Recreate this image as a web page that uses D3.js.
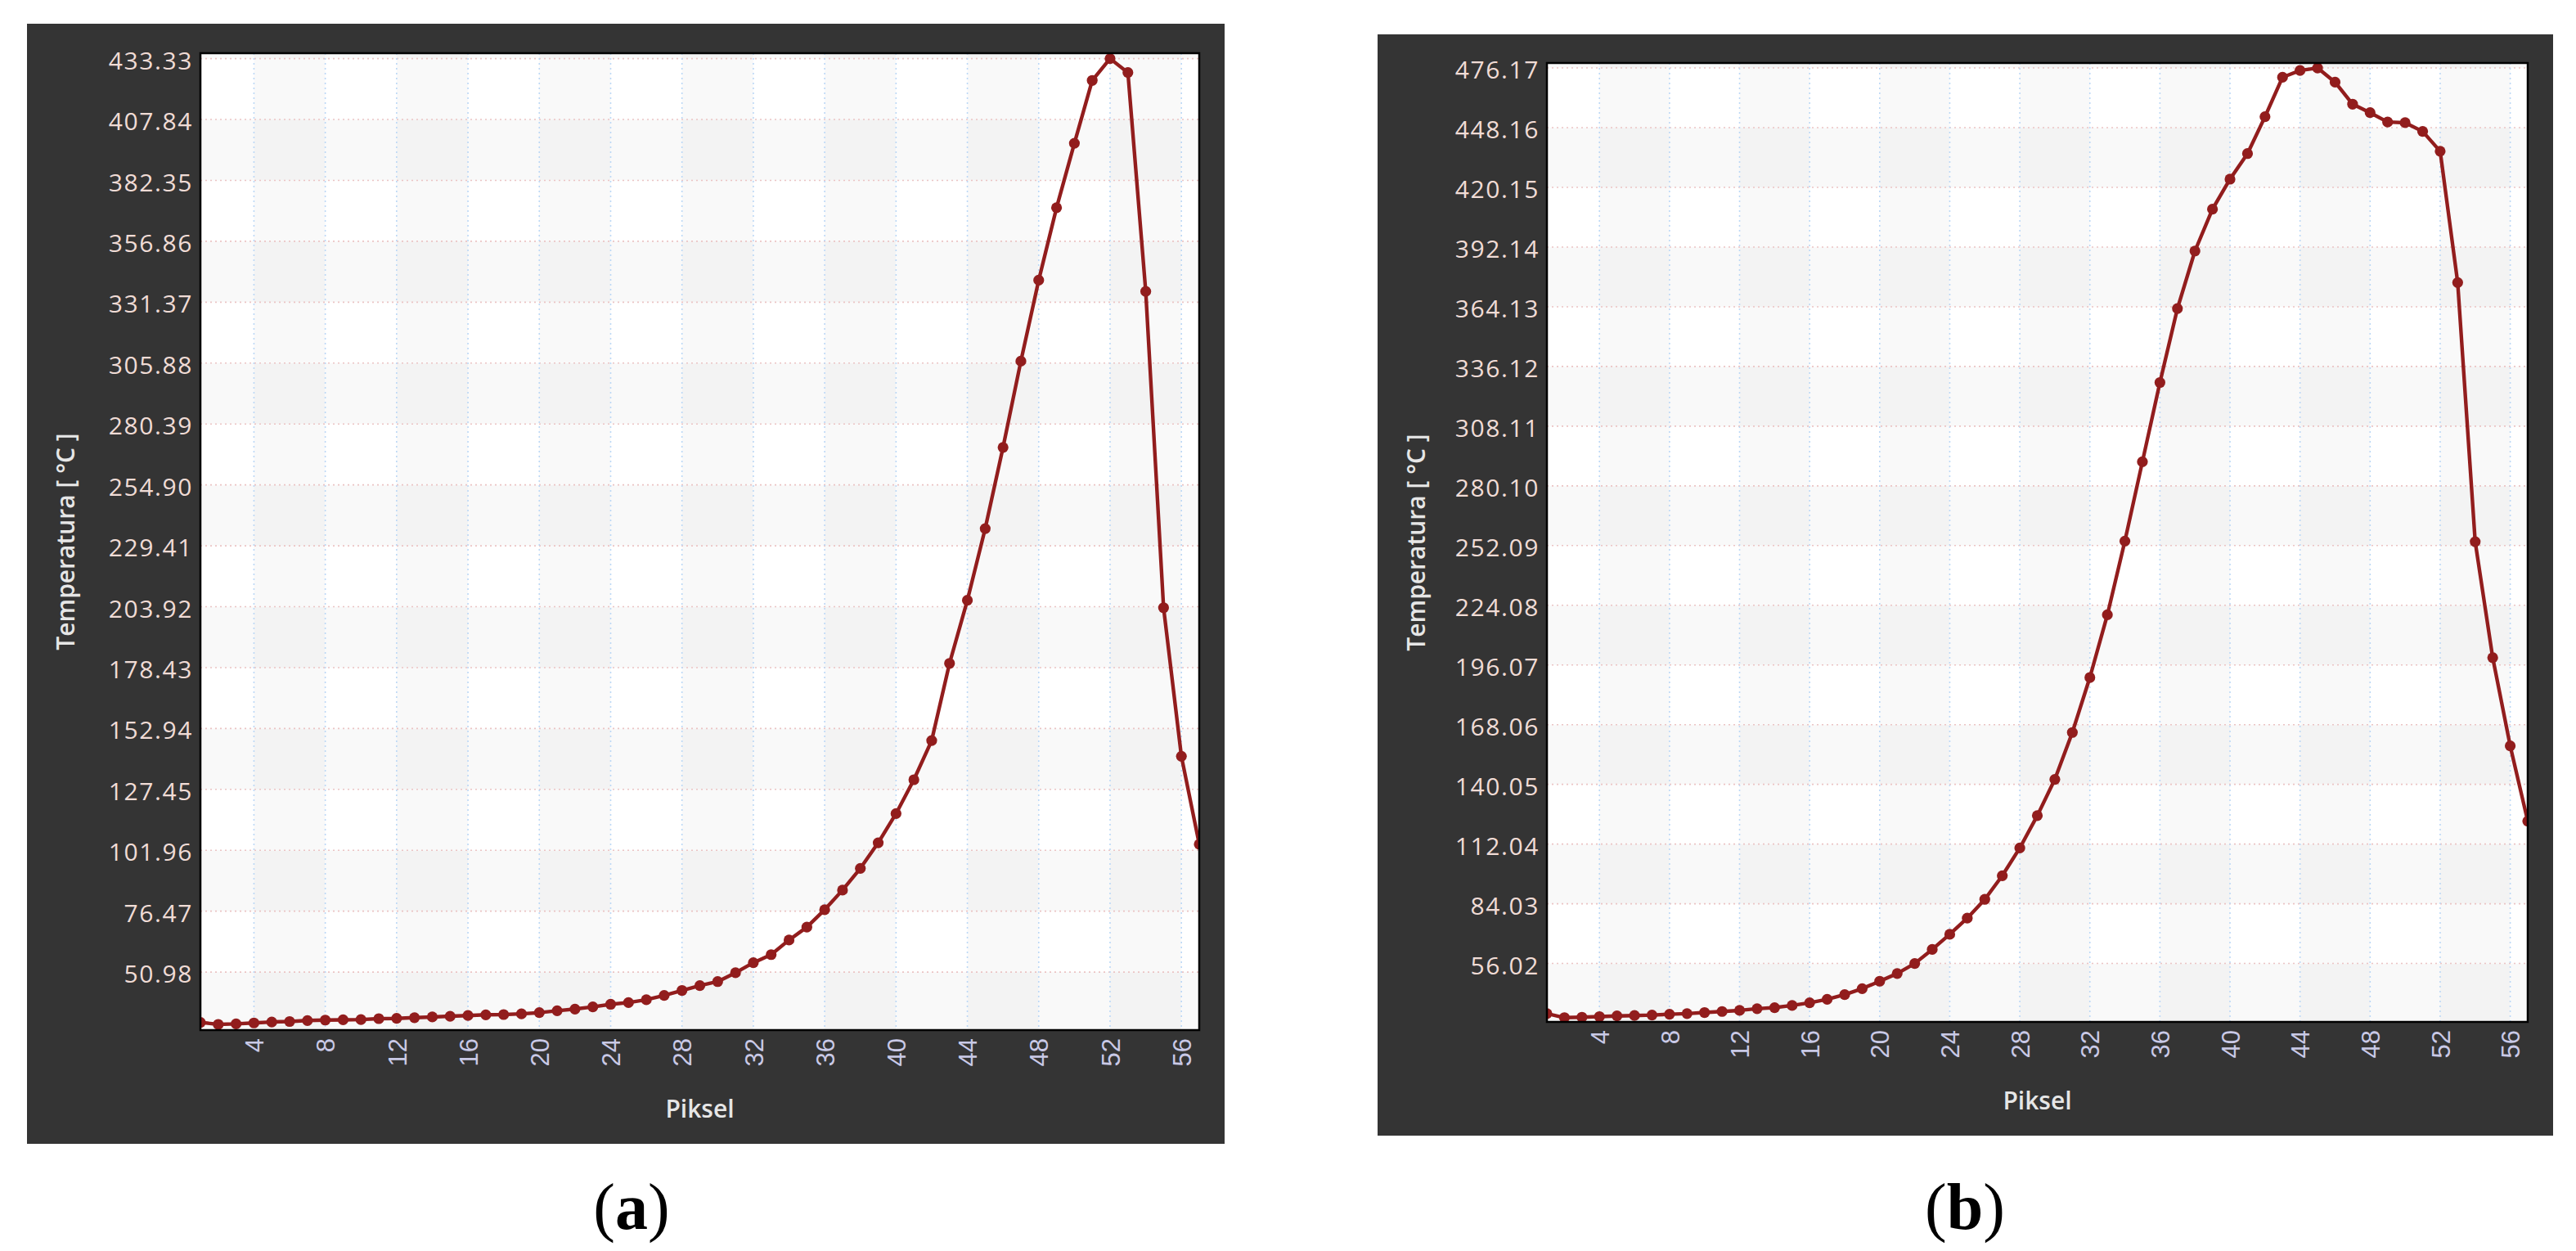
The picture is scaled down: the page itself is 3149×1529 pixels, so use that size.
<!DOCTYPE html>
<html>
<head>
<meta charset="utf-8">
<script src="https://cdn.jsdelivr.net/npm/d3@7"></script>
<style>
  html, body { margin: 0; padding: 0; background: #ffffff; }
  svg { display: block; }
</style>
</head>
<body>
<svg id="chart" width="3149" height="1529"></svg>
<script>
// ---------------- DATA ----------------
const pixels = d3.range(1, 58); // Piksel 1..57

const tempA = [29.9, 29.1, 29.3, 29.7, 30.1, 30.3, 30.7, 30.9, 31.0, 31.1,
               31.5, 31.6, 31.9, 32.2, 32.5, 32.8, 33.1, 33.2, 33.5, 34.0,
               34.8, 35.5, 36.4, 37.5, 38.2, 39.4, 41.2, 43.3, 45.3, 47.0,
               50.7, 54.9, 58.3, 64.4, 69.8, 77.1, 85.3, 94.4, 105.1, 117.3,
               131.5, 147.9, 180.2, 206.6, 236.6, 270.6, 306.7, 340.6, 370.9, 397.9,
               424.2, 433.33, 427.5, 335.9, 203.5, 141.3, 104.5];

const tempB = [32.5, 30.6, 30.8, 31.1, 31.4, 31.6, 31.8, 32.2, 32.5, 33.0,
               33.5, 34.0, 34.8, 35.3, 36.3, 37.6, 39.2, 41.4, 44.2, 47.7,
               51.3, 56.0, 62.6, 69.7, 77.3, 86.1, 97.2, 110.2, 125.4, 142.4,
               164.4, 190.2, 219.6, 254.2, 291.4, 328.6, 363.3, 390.3, 409.9, 424.0,
               436.0, 453.3, 471.8, 475.0, 476.17, 469.5, 459.2, 455.2, 450.8, 450.5,
               446.4, 437.1, 375.5, 253.9, 199.5, 158.1, 122.8];

const yTicksA = [50.98, 76.47, 101.96, 127.45, 152.94, 178.43, 203.92, 229.41,
                 254.90, 280.39, 305.88, 331.37, 356.86, 382.35, 407.84, 433.33];
const yTicksB = [56.02, 84.03, 112.04, 140.05, 168.06, 196.07, 224.08, 252.09,
                 280.10, 308.11, 336.12, 364.13, 392.14, 420.15, 448.16, 476.17];
const xTicks = [4, 8, 12, 16, 20, 24, 28, 32, 36, 40, 44, 48, 52, 56];

const xTitle = "Piksel";
const yTitle = "Temperatura [ °C ]";
const panelLabels = ["a", "b"];

// ---------------- LAYOUT ----------------
const panels = [
  { id: "a", values: tempA, yTicks: yTicksA, yDomain: [26.7, 435.6],
    bg: { x0: 33, y0: 29, x1: 1497, y1: 1398 },
    plot: { x0: 245, y0: 65, x1: 1466, y1: 1259 },
    labelX: 772, label: panelLabels[0] },
  { id: "b", values: tempB, yTicks: yTicksB, yDomain: [28.6, 478.5],
    bg: { x0: 1684, y0: 42, x1: 3121, y1: 1388 },
    plot: { x0: 1891, y0: 77, x1: 3090, y1: 1249 },
    labelX: 2402, label: panelLabels[1] }
];

const svg = d3.select("#chart");
const lineColor = "#921d1d";

panels.forEach(p => {
  const g = svg.append("g");
  const P = p.plot;
  const W = P.x1 - P.x0, H = P.y1 - P.y0;

  // dark panel background
  g.append("rect")
    .attr("x", p.bg.x0).attr("y", p.bg.y0)
    .attr("width", p.bg.x1 - p.bg.x0).attr("height", p.bg.y1 - p.bg.y0)
    .attr("fill", "#343434");

  const x = d3.scaleLinear().domain([1, 57]).range([P.x0, P.x1]);
  const y = d3.scaleLinear().domain(p.yDomain).range([P.y1, P.y0]);

  const clipId = "clip-" + p.id;
  svg.append("defs").append("clipPath").attr("id", clipId)
    .append("rect").attr("x", P.x0).attr("y", P.y0).attr("width", W).attr("height", H);

  const inner = g.append("g").attr("clip-path", `url(#${clipId})`);
  inner.append("rect").attr("x", P.x0).attr("y", P.y0).attr("width", W).attr("height", H)
    .attr("fill", "#ffffff");

  // checkerboard bands (alternating tick intervals in x and y)
  const step = p.yTicks[1] - p.yTicks[0];
  const kMin = Math.floor(p.yDomain[0] / step), kMax = Math.ceil(p.yDomain[1] / step);
  const cells = [];
  for (let k = kMin; k <= kMax; k++) {
    for (let c = 0; c <= 15; c++) {
      const n = (k % 2 === 1 ? 1 : 0) + (c % 2 === 1 ? 1 : 0);
      if (n > 0) cells.push({ k, c, n });
    }
  }
  inner.selectAll("rect.cell").data(cells).join("rect")
    .attr("class", "cell")
    .attr("x", d => x(d.c * 4))
    .attr("width", d => x((d.c + 1) * 4) - x(d.c * 4))
    .attr("y", d => y((d.k + 1) * step))
    .attr("height", d => y(d.k * step) - y((d.k + 1) * step))
    .attr("fill", d => d.n === 2 ? "#f3f3f3" : "#f9f9f9");

  // grid lines
  inner.selectAll("line.hg").data(p.yTicks).join("line")
    .attr("class", "hg")
    .attr("x1", P.x0).attr("x2", P.x1)
    .attr("y1", d => y(d)).attr("y2", d => y(d))
    .attr("stroke", "#ebc4c4").attr("stroke-width", 1.6)
    .attr("stroke-dasharray", "2,4");
  inner.selectAll("line.vg").data(xTicks).join("line")
    .attr("class", "vg")
    .attr("y1", P.y0).attr("y2", P.y1)
    .attr("x1", d => x(d)).attr("x2", d => x(d))
    .attr("stroke", "#bcd8f6").attr("stroke-width", 1.6)
    .attr("stroke-dasharray", "2,4");

  // series
  const data = pixels.map((px, i) => ({ px, v: p.values[i] }));
  inner.append("path").datum(data)
    .attr("fill", "none").attr("stroke", lineColor).attr("stroke-width", 4.4)
    .attr("stroke-linejoin", "round")
    .attr("d", d3.line().x(d => x(d.px)).y(d => y(d.v)));
  inner.selectAll("circle").data(data).join("circle")
    .attr("cx", d => x(d.px)).attr("cy", d => y(d.v)).attr("r", 6.6)
    .attr("fill", lineColor);

  // frame
  g.append("rect").attr("x", P.x0).attr("y", P.y0).attr("width", W).attr("height", H)
    .attr("fill", "none").attr("stroke", "#000").attr("stroke-width", 2.5);

  // y axis (tick labels only)
  const yAxis = d3.axisLeft(y).tickValues(p.yTicks).tickSize(0).tickPadding(9)
    .tickFormat(d3.format(".2f"));
  const ya = g.append("g").attr("transform", `translate(${P.x0},0)`).call(yAxis);
  ya.select(".domain").remove();
  ya.selectAll("text")
    .attr("fill", "#f0dcd6")
    .attr("font-family", "'Open Sans', sans-serif")
    .attr("font-size", 30)
    .attr("letter-spacing", 1.6)
    .attr("dy", "0.42em");

  // x axis (rotated tick labels)
  const xAxis = d3.axisBottom(x).tickValues(xTicks).tickSize(0).tickPadding(0);
  const xa = g.append("g").attr("transform", `translate(0,${P.y1})`).call(xAxis);
  xa.select(".domain").remove();
  xa.selectAll("text")
    .attr("fill", "#c9c9e6")
    .attr("font-family", "'Liberation Sans', Arial, sans-serif")
    .attr("font-size", 31)
    .attr("text-anchor", "end")
    .attr("transform", "rotate(-90)")
    .attr("x", -10).attr("y", 0).attr("dy", "0.36em");

  // axis titles
  g.append("text")
    .attr("x", (P.x0 + P.x1) / 2).attr("y", P.y1 + 107)
    .attr("text-anchor", "middle")
    .attr("fill", "#e6e6e6")
    .attr("font-family", "'Open Sans', sans-serif")
    .attr("font-weight", 600).attr("font-size", 30)
    .text(xTitle);
  g.append("text")
    .attr("transform", `translate(${p.bg.x0 + 58},${(P.y0 + P.y1) / 2}) rotate(-90)`)
    .attr("text-anchor", "middle")
    .attr("fill", "#e6e6e6")
    .attr("font-family", "'Open Sans', sans-serif")
    .attr("font-weight", 600).attr("font-size", 30)
    .text(yTitle);

  // panel label
  const lab = svg.append("text")
    .attr("x", p.labelX).attr("y", 1502)
    .attr("text-anchor", "middle")
    .attr("fill", "#000")
    .attr("font-family", "'Liberation Serif', 'Times New Roman', serif")
    .attr("font-size", 80);
  lab.append("tspan").text("(");
  lab.append("tspan").attr("font-weight", "bold").text(p.label);
  lab.append("tspan").text(")");
});
</script>
</body>
</html>
